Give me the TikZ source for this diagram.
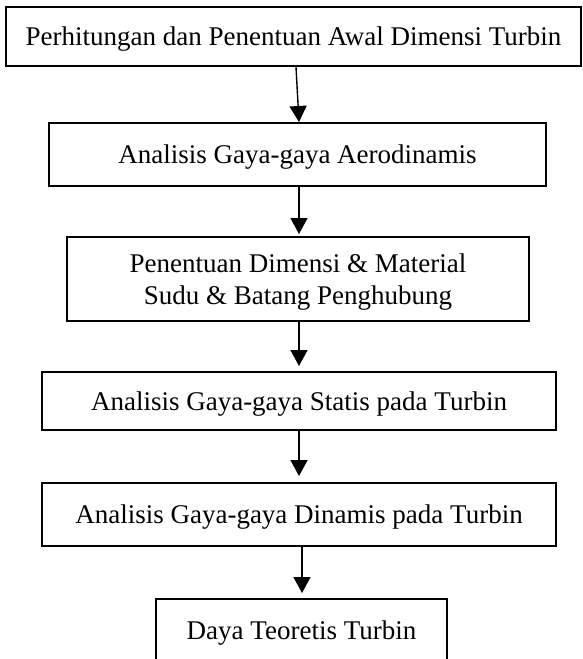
\documentclass[tikz,border=0pt]{standalone}
\usepackage{fontspec}
\setmainfont{Liberation Serif}
\usetikzlibrary{arrows.meta}
\begin{document}
\begin{tikzpicture}[x=1pt,y=1pt,
  box/.style={draw=black, line width=2pt, fill=white, inner sep=0pt, align=center,
    text depth=0pt, font=\fontsize{27}{32}\selectfont},
  arr/.style={line width=1.4pt, -{Triangle[length=16pt,width=17pt]}}]
\clip (0,0) rectangle (582,-659);
\node[box, minimum width=575pt, minimum height=59pt] (b1) at (293.5,-36.5) {Perhitungan dan Penentuan Awal Dimensi Turbin};
\node[box, minimum width=497pt, minimum height=63pt] (b2) at (297.5,-154.5) {Analisis Gaya-gaya Aerodinamis};
\node[box, minimum width=462pt, minimum height=84pt] (b3) at (298,-279) {Penentuan Dimensi \& Material\\Sudu \& Batang Penghubung};
\node[box, minimum width=514pt, minimum height=58pt] (b4) at (299,-401) {Analisis Gaya-gaya Statis pada Turbin};
\node[box, minimum width=514pt, minimum height=63pt] (b5) at (299,-514.5) {Analisis Gaya-gaya Dinamis pada Turbin};
\node[box, minimum width=291pt, minimum height=62pt] (b6) at (301.5,-630) {Daya Teoretis Turbin};
\draw[arr] ([xshift=2.5pt]b1.south) -- ([xshift=1.5pt]b2.north);
\draw[arr] ([xshift=1.5pt]b2.south) -- ([xshift=1pt,yshift=2pt]b3.north);
\draw[arr] ([xshift=1pt]b3.south) -- ([yshift=5pt]b4.north);
\draw[arr] (b4.south) -- ([yshift=6pt]b5.north);
\draw[arr] ([xshift=3pt]b5.south) -- ([xshift=0.5pt,yshift=5pt]b6.north);
\end{tikzpicture}
\end{document}
